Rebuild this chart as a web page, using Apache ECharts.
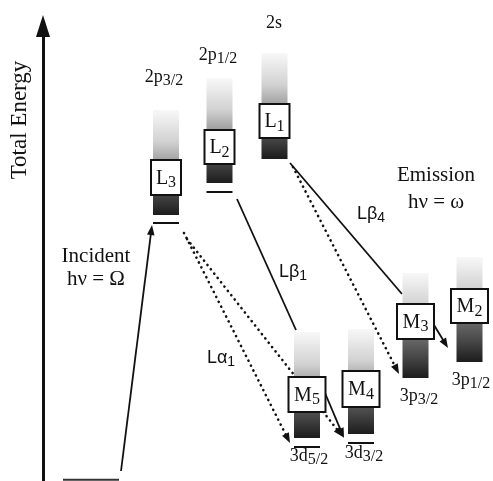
<!DOCTYPE html>
<html>
<head>
<meta charset="utf-8">
<script src="https://cdn.jsdelivr.net/npm/echarts@6/dist/echarts.min.js"></script>
<style>
html,body{margin:0;padding:0;background:#fff;}
#chart{width:493px;height:481px;}
</style>
</head>
<body>
<div id="chart"></div>
<script>
// ---- Data (x = horizontal position, E = total energy, both in diagram units) ----
const levelShell   = ['L', 'L', 'L', 'M', 'M', 'M', 'M'];
const levelIndex   = ['3', '2', '1', '5', '4', '3', '2'];
const levelX       = [166, 219.5, 274.5, 307, 361, 415.5, 469.5];
const bandTop      = [371, 403, 428, 149, 152, 208, 224];
const bandBottom   = [266, 298, 322, 43, 47, 103, 119];
const boxTop       = [321, 351, 377, 104, 110, 177, 192];
const boxBottom    = [286, 317, 343, 69, 74, 142, 158];
const edgeEnergy   = [258, 289, null, 34, 38, null, null];

const orbitalBase  = ['2p', '2p', '2s', '3d', '3d', '3p', '3p'];
const orbitalSub   = ['3/2', '1/2', '', '5/2', '3/2', '3/2', '1/2'];
const orbitalX     = [164, 218, 274, 309, 364, 419, 471];
const orbitalE     = [404, 426, 458, 25, 27.5, 85, 101];

const groundLevel  = { x1: 63, x2: 119, e: 1.2 };

const transFrom    = [[121, 10], [290, 318], [293, 314], [237, 282], [184, 248], [187, 242], [325, 88], [434, 156]];
const transTo      = [[152, 256], [402, 187], [399, 107], [296, 151], [290, 38], [343, 44], [344, 43], [448, 133]];
const transDotted  = [false, false, true, false, true, true, false, false];
const transArrow   = [true, false, true, false, true, true, true, true];

const lineLabelBase = ['Lβ', 'Lβ', 'Lα'];
const lineLabelSub  = ['4', '1', '1'];
const lineLabelX    = [371, 293, 221];
const lineLabelE    = [266.5, 208.5, 122.5];

const noteTexts = ['Incident', 'hν = Ω', 'Emission', 'hν = ω'];
const noteX     = [96, 96, 436, 436];
const noteE     = [224.5, 202, 305.5, 278.5];

const axisTitle = { text: 'Total Energy', x: 20, e: 361 };

// ---- Rendering ----
const SERIF = '"Liberation Serif", "DejaVu Serif", serif';
const SANS = '"Liberation Sans", Arial, sans-serif';
const INK = '#111';

const chart = echarts.init(document.getElementById('chart'), null, { renderer: 'canvas' });

function subRich(family, base, sub, shift) {
  return {
    b: { fontFamily: family, fontSize: base, lineHeight: base + 2, fill: INK },
    s: { fontFamily: family, fontSize: sub, lineHeight: base + 2, padding: [shift * 2, 0, 0, 0], fill: INK }
  };
}

function arrowGroup(p1, p2, dotted, arrow) {
  const children = [];
  const dx = p2[0] - p1[0], dy = p2[1] - p1[1];
  const len = Math.sqrt(dx * dx + dy * dy);
  const ux = dx / len, uy = dy / len;
  const headLen = arrow ? 10 : 0, headHalf = 3.8;
  const end = [p2[0] - ux * headLen * 0.85, p2[1] - uy * headLen * 0.85];
  children.push({
    type: 'line',
    shape: { x1: p1[0], y1: p1[1], x2: end[0], y2: end[1] },
    style: dotted
      ? { stroke: INK, lineWidth: 2.6, lineDash: [0.1, 5.4], lineCap: 'round' }
      : { stroke: INK, lineWidth: 1.8 }
  });
  if (arrow) {
    const bx = p2[0] - ux * headLen, by = p2[1] - uy * headLen;
    children.push({
      type: 'polygon',
      shape: { points: [[p2[0], p2[1]], [bx - uy * headHalf, by + ux * headHalf], [bx + uy * headHalf, by - ux * headHalf]] },
      style: { fill: INK }
    });
  }
  return children;
}

const columnGradient = () => new echarts.graphic.LinearGradient(0, 0, 0, 1, [
  { offset: 0, color: '#f8f8f8' },
  { offset: 0.3, color: '#d2d2d2' },
  { offset: 0.48, color: '#a2a2a2' },
  { offset: 0.63, color: '#686868' },
  { offset: 0.82, color: '#434343' },
  { offset: 1, color: '#1c1c1c' }
]);

const option = {
  animation: false,
  backgroundColor: '#fff',
  grid: { left: 43, right: 0, top: 26, bottom: 0 },
  xAxis: { type: 'value', min: 43, max: 493, show: false },
  yAxis: {
    type: 'value', min: 0, max: 455,
    axisLine: { show: true, symbol: ['none', 'triangle'], symbolSize: [14, 22], lineStyle: { color: INK, width: 3 } },
    axisTick: { show: false }, axisLabel: { show: false }, splitLine: { show: false }
  },
  series: [
    {
      // transitions and ground level
      type: 'custom', z: 1,
      data: transFrom.map((f, i) => [f[0], f[1], transTo[i][0], transTo[i][1]]),
      renderItem: function (params, api) {
        const i = params.dataIndex;
        const p1 = api.coord([api.value(0), api.value(1)]);
        const p2 = api.coord([api.value(2), api.value(3)]);
        const children = arrowGroup(p1, p2, transDotted[i], transArrow[i]);
        if (i === 0) {
          const g1 = api.coord([groundLevel.x1, groundLevel.e]);
          const g2 = api.coord([groundLevel.x2, groundLevel.e]);
          children.push({ type: 'line', shape: { x1: g1[0], y1: g1[1], x2: g2[0], y2: g2[1] }, style: { stroke: '#333', lineWidth: 2 } });
        }
        return { type: 'group', children: children };
      }
    },
    {
      // core-level columns with boxes
      type: 'custom', z: 2,
      data: levelX.map((x, i) => [x, boxTop[i]]),
      renderItem: function (params, api) {
        const i = params.dataIndex;
        const colW = 26;
        const boxW = levelShell[i] === 'L' ? 30 : 37;
        const top = api.coord([levelX[i], bandTop[i]]);
        const bot = api.coord([levelX[i], bandBottom[i]]);
        const bt = api.coord([levelX[i], boxTop[i]]);
        const bb = api.coord([levelX[i], boxBottom[i]]);
        const cx = top[0];
        const children = [
          { type: 'rect', shape: { x: cx - colW / 2, y: top[1], width: colW, height: bot[1] - top[1] }, style: { fill: columnGradient() } },
          { type: 'rect', shape: { x: cx - boxW / 2, y: bt[1], width: boxW, height: bb[1] - bt[1] }, style: { fill: '#fff', stroke: INK, lineWidth: 2 } },
          {
            type: 'text', x: cx, y: (bt[1] + bb[1]) / 2 + 1,
            style: {
              text: '{b|' + levelShell[i] + '}{s|' + levelIndex[i] + '}',
              align: 'center', verticalAlign: 'middle',
              rich: subRich(SERIF, 20, 16, 4.5)
            }
          }
        ];
        if (edgeEnergy[i] !== null) {
          const ep = api.coord([levelX[i], edgeEnergy[i]]);
          children.push({ type: 'line', shape: { x1: cx - colW / 2, y1: ep[1], x2: cx + colW / 2, y2: ep[1] }, style: { stroke: INK, lineWidth: 2 } });
        }
        return { type: 'group', children: children };
      }
    },
    {
      // orbital labels
      type: 'custom', z: 3,
      data: orbitalX.map((x, i) => [x, orbitalE[i]]),
      renderItem: function (params, api) {
        const i = params.dataIndex;
        const p = api.coord([api.value(0), api.value(1)]);
        const txt = '{b|' + orbitalBase[i] + '}' + (orbitalSub[i] ? '{s|' + orbitalSub[i] + '}' : '');
        return { type: 'text', x: p[0], y: p[1], style: { text: txt, align: 'center', verticalAlign: 'middle', rich: subRich(SERIF, 18, 16, 3.5) } };
      }
    },
    {
      // emission line labels
      type: 'custom', z: 3,
      data: lineLabelX.map((x, i) => [x, lineLabelE[i]]),
      renderItem: function (params, api) {
        const i = params.dataIndex;
        const p = api.coord([api.value(0), api.value(1)]);
        return { type: 'text', x: p[0], y: p[1], style: { text: '{b|' + lineLabelBase[i] + '}{s|' + lineLabelSub[i] + '}', align: 'center', verticalAlign: 'middle', rich: subRich(SANS, 18, 14, 4) } };
      }
    },
    {
      // notes and axis title
      type: 'custom', z: 3,
      data: noteX.map((x, i) => [x, noteE[i]]).concat([[axisTitle.x, axisTitle.e]]),
      renderItem: function (params, api) {
        const i = params.dataIndex;
        const p = api.coord([api.value(0), api.value(1)]);
        if (i === noteTexts.length) {
          return { type: 'text', x: p[0], y: p[1], rotation: Math.PI / 2, style: { text: axisTitle.text, align: 'center', verticalAlign: 'middle', fontFamily: SERIF, fontSize: 23, fill: INK } };
        }
        return { type: 'text', x: p[0], y: p[1], style: { text: noteTexts[i], align: 'center', verticalAlign: 'middle', fontFamily: SERIF, fontSize: 21, fill: INK } };
      }
    }
  ]
};
chart.setOption(option);
</script>
</body>
</html>
